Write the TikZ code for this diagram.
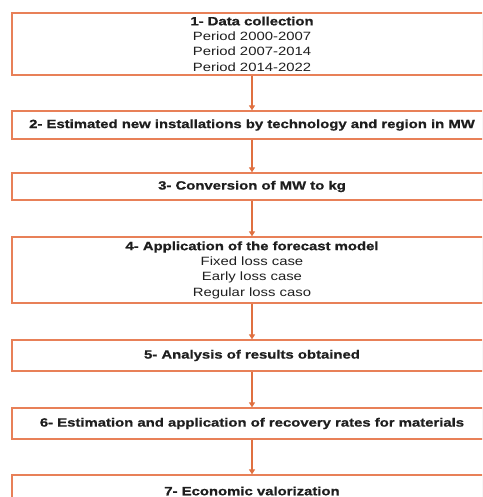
\documentclass[tikz,border=0pt]{standalone}
\usepackage{fontspec}
\setmainfont[FakeStretch=1.24, BoldFeatures={FakeBold=0.8}]{Liberation Sans}
\usetikzlibrary{arrows.meta,shadows}
\definecolor{boxline}{RGB}{232,128,88}
\definecolor{arrowc}{RGB}{224,112,64}
\definecolor{txt}{RGB}{30,30,30}
\begin{document}
\begin{tikzpicture}[x=1pt,y=1pt,
  stepbox/.style={draw=boxline, line width=1.3pt, fill=white, minimum width=480pt,
    inner sep=0pt, align=center, text=txt,
    font=\fontsize{12}{15.3}\selectfont,
    drop shadow={shadow xshift=0.6pt, shadow yshift=-0.6pt, fill=black!45, opacity=0.6}},
  flow/.style={draw=arrowc, line width=1.6pt, -{Triangle[length=5pt,width=6pt]}}]
\useasboundingbox (0,0) rectangle (482,-497);
\clip (0,0) rectangle (482,-497);
\node[stepbox, minimum height=62pt] (b1) at (252,-44)
  {\textbf{1- Data collection}\\Period 2000-2007\\Period 2007-2014\\Period 2014-2022};
\node[stepbox, minimum height=28pt] (b2) at (252,-125)
  {\textbf{2- Estimated new installations by technology and region in MW}};
\node[stepbox, minimum height=27pt] (b3) at (252,-186.5)
  {\textbf{3- Conversion of MW to kg}};
\node[stepbox, minimum height=66pt] (b4) at (252,-270)
  {\textbf{4- Application of the forecast model}\\Fixed loss case\\Early loss case\\Regular loss caso};
\node[stepbox, minimum height=31pt] (b5) at (252,-355.5)
  {\textbf{5- Analysis of results obtained}};
\node[stepbox, minimum height=31pt] (b6) at (252,-423.5)
  {\textbf{6- Estimation and application of recovery rates for materials}};
\node[stepbox, minimum height=32pt] (b7) at (252,-491)
  {\textbf{7- Economic valorization}};
\draw[flow] (b1) -- (b2);
\draw[flow] (b2) -- (b3);
\draw[flow] (b3) -- (b4);
\draw[flow] (b4) -- (b5);
\draw[flow] (b5) -- (b6);
\draw[flow] (b6) -- (b7);
\end{tikzpicture}
\end{document}
